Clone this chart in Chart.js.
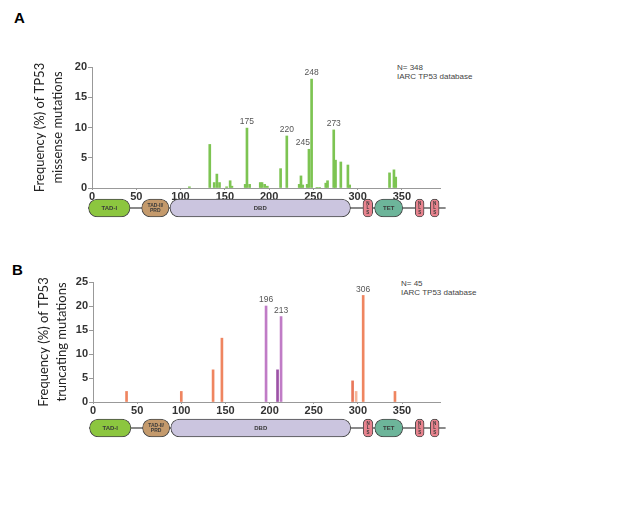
<!DOCTYPE html>
<html><head><meta charset="utf-8">
<script src="https://cdn.jsdelivr.net/npm/chart.js@4/dist/chart.umd.min.js"></script>
<style>
html,body{margin:0;padding:0;background:#fff;}
body{width:640px;height:508px;position:relative;overflow:hidden;font-family:"Liberation Sans",Arial,sans-serif;}
.abs{position:absolute;}
canvas{display:block;position:absolute;}
.note{position:absolute;font-size:8px;line-height:9px;color:#444;white-space:nowrap;}
</style></head><body>
<div class="abs" style="left:14px;top:9px;font-weight:bold;font-size:15px;">A</div>
<div class="abs" style="left:12px;top:261px;font-weight:bold;font-size:15px;">B</div>
<div class="note" style="left:397px;top:63px;">N= 348<br>IARC TP53 database</div>
<div class="note" style="left:401px;top:279px;">N= 45<br>IARC TP53 database</div>
<canvas id="cA" width="640" height="206" style="left:0;top:0;width:640px;height:206px"></canvas>
<canvas id="dA" width="640" height="24" style="left:0;top:196px;width:640px;height:24px"></canvas>
<canvas id="cB" width="640" height="205" style="left:0;top:215px;width:640px;height:205px"></canvas>
<canvas id="dB" width="640" height="24" style="left:0;top:416px;width:640px;height:24px"></canvas>
<script>
// ---------- data ----------
const xTicksStep = 50;
const proteinLength = 393;

const missensePos  = [110, 133, 138, 141, 144, 152, 156, 158, 173, 175, 178, 190, 192, 195, 198, 213, 220, 234, 236, 238, 243, 245, 248, 254, 257, 264, 266, 273, 275, 281, 289, 291, 336, 341, 343];
const missenseFreq = [0.2, 7.2, 0.9, 2.3, 0.9, 0.2, 1.2, 0.3, 0.6, 9.9, 0.6, 0.9, 0.9, 0.6, 0.3, 3.2, 8.6, 0.6, 2.0, 0.5, 0.6, 6.4, 18.0, 0.1, 0.1, 0.8, 1.2, 9.6, 4.6, 4.3, 3.8, 0.5, 2.5, 3.0, 1.8];
const missenseLabeled = [175, 220, 245, 248, 273];

const truncPos  = [38, 100, 136, 146, 196, 209, 213, 294, 298, 306, 342];
const truncFreq = [2.2, 2.2, 6.7, 13.3, 20.0, 6.7, 17.8, 4.4, 2.2, 22.2, 2.2];
const truncLabeled = [196, 213, 306];

const domainNames = ['TAD-I', 'TAD-II/\nPRD', 'DBD', 'N\nL\nS', 'TET', 'N\nL\nS', 'N\nL\nS'];
const domainStart = [-4, 56, 88, 306, 319, 365, 382];
const domainEnd   = [43, 87, 292, 317, 351, 375, 392];
const backboneRange = [-4, 399];

// ---------- styles ----------
const domainColors = ['#8cc63f', '#c49a6c', '#cbc5df', '#e8838e', '#6db59a', '#e8838e', '#e8838e'];
const missenseColor = '#7dc452';
const truncColors = ['#ef8560','#ef8560','#ef8560','#ef8560','#c07cc6','#9c52a6','#c07cc6','#e9775a','#f5b498','#ef8560','#ef8560'];
const FONT = '"Liberation Sans", Arial, sans-serif';

const peakLabels = {
  id: 'peakLabels',
  afterDatasetsDraw(chart, args, opts) {
    const meta = chart.getDatasetMeta(0);
    const ctx = chart.ctx;
    ctx.save();
    ctx.font = '8.5px ' + FONT;
    ctx.fillStyle = '#555';
    ctx.textAlign = 'center';
    ctx.textBaseline = 'bottom';
    opts.labels.forEach(pos => {
      const i = opts.positions.indexOf(pos);
      const el = meta.data[i];
      const dx = (opts.dx && opts.dx[pos]) || 0;
      ctx.fillText(String(pos), el.x + dx, el.y - 2);
    });
    ctx.restore();
  }
};

function spikeChart(id, pos, freq, colors, ymax, titleLines, padLeft, axisW, labeled, dx) {
  return new Chart(document.getElementById(id), {
    type: 'bar',
    data: {
      datasets: [{
        data: pos.map((p, i) => ({x: p, y: freq[i]})),
        backgroundColor: colors,
        barThickness: 2,
        borderWidth: 0
      }]
    },
    options: {
      responsive: false, animation: false,
      layout: {padding: {left: padLeft, top: 67, right: 200, bottom: 0}},
      plugins: {legend: {display: false}, tooltip: {enabled: false},
        peakLabels: {positions: pos, labels: labeled, dx: dx}},
      scales: {
        x: {
          type: 'linear', min: 0, max: proteinLength, offset: false,
          grid: {display: true, drawOnChartArea: false, offset: false, tickLength: 2, color: '#999'},
          border: {color: '#999', width: 1},
          ticks: {stepSize: xTicksStep, color: '#333', font: {family: FONT, size: 11, weight: 'bold'}, padding: 0, maxRotation: 0, autoSkip: false},
          afterBuildTicks: s => { s.ticks = s.ticks.filter(t => t.value % xTicksStep === 0); },
          afterFit: s => { s.height = 18; }
        },
        y: {
          min: 0, max: ymax,
          grid: {display: true, drawOnChartArea: false, tickLength: 4, color: '#999'},
          border: {color: '#999', width: 1},
          ticks: {stepSize: 5, color: '#333', font: {family: FONT, size: 11, weight: 'bold'}, padding: 1},
          title: {display: true, text: titleLines, color: '#222', font: {family: 'Lato', size: 13, lineHeight: 1.385}, padding: 0},
          afterFit: s => { s.width = axisW; }
        }
      }
    },
    plugins: [peakLabels]
  });
}

const domainLabels = {
  id: 'domainLabels',
  afterDatasetsDraw(chart) {
    const xs = chart.scales.x, ys = chart.scales.y;
    const ctx = chart.ctx;
    const cy = ys.getPixelForValue(0);
    ctx.save();
    ctx.textAlign = 'center';
    ctx.textBaseline = 'middle';
    ctx.fillStyle = '#3a3a3a';
    domainNames.forEach((name, i) => {
      const cx = (xs.getPixelForValue(domainStart[i]) + xs.getPixelForValue(domainEnd[i])) / 2;
      const lines = name.split('\n');
      const fs = lines.length === 3 ? 4.5 : (lines.length === 2 ? 5 : 6);
      const lh = lines.length === 3 ? 4.6 : 5.5;
      ctx.font = 'bold ' + fs + 'px ' + FONT;
      lines.forEach((ln, k) => {
        ctx.fillText(ln, cx, cy + (k - (lines.length - 1) / 2) * lh);
      });
    });
    ctx.restore();
  }
};

function domainChart(id, left, pxPerUnit) {
  const xmin = -5, xmax = 400;
  const l = left + xmin * pxPerUnit;
  const r = left + xmax * pxPerUnit;
  return new Chart(document.getElementById(id), {
    type: 'bar',
    data: {
      labels: ['p53'],
      datasets: [
        {
          data: [{x: backboneRange, y: 'p53'}],
          backgroundColor: '#8a8a8a', barThickness: 1.5, borderWidth: 0,
          grouped: false, order: 1, clip: false
        },
        {
          data: domainStart.map((s, i) => ({x: [s, domainEnd[i]], y: 'p53'})),
          backgroundColor: domainColors, borderColor: '#4a4a4a', borderWidth: 1,
          borderSkipped: false, borderRadius: 9, barThickness: 18,
          grouped: false, order: 0, clip: false
        }
      ]
    },
    options: {
      indexAxis: 'y', responsive: false, animation: false,
      layout: {padding: {left: l, right: 640 - r, top: 0, bottom: 0}},
      plugins: {legend: {display: false}, tooltip: {enabled: false}},
      scales: {
        x: {type: 'linear', min: xmin, max: xmax, display: false},
        y: {type: 'category', display: false}
      }
    },
    plugins: [domainLabels]
  });
}

spikeChart('cA', missensePos, missenseFreq, missenseColor, 20,
  ['Frequency (%) of TP53', 'missense mutations'], 31, 61, missenseLabeled, {245: -6});
spikeChart('cB', truncPos, truncFreq, truncColors, 25,
  ['Frequency (%) of TP53', 'truncating mutations'], 35, 58, truncLabeled, {});
domainChart('dA', 92, (440 - 92) / proteinLength);
domainChart('dB', 93, (440 - 93) / proteinLength);
</script>
</body></html>
